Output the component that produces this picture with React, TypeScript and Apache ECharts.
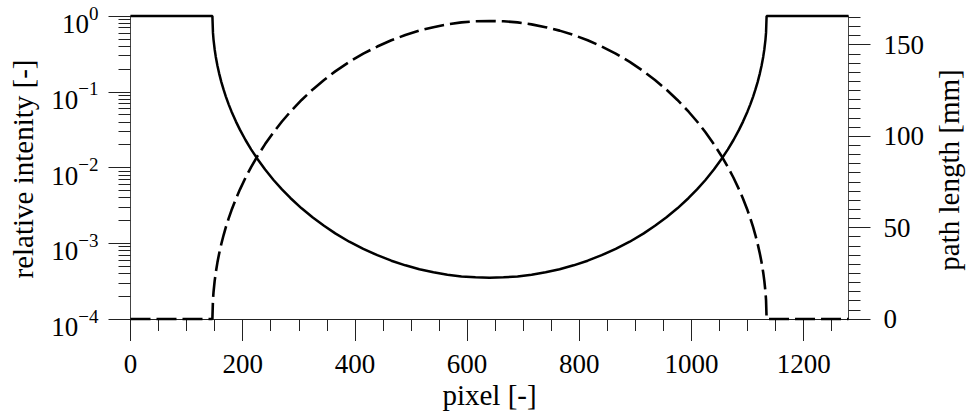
import React, { useEffect, useRef } from "react";
import * as echarts from "echarts";

// Detector pixel positions across the scan
const pixelPos = [
  0, 146, 147, 148, 150, 152, 155, 158, 162, 166, 170, 175, 180, 188, 195, 205, 215, 227, 240, 255,
  270, 285, 305, 325, 345, 365, 390, 415, 440, 465, 490, 515, 540, 565, 590, 615, 640,
  665, 690, 715, 740, 765, 790, 815, 840, 865, 890, 915, 935, 955, 975, 995, 1010, 1025, 1040,
  1053, 1065, 1075, 1085, 1092, 1100, 1105, 1110, 1114, 1118, 1122, 1125, 1128, 1130, 1132, 1133,
  1134, 1280,
];

// Relative transmitted intensity [-]
const intensity = [
  1, 1, 0.6031, 0.4892, 0.3642, 0.2905, 0.2206, 0.1751, 0.1342, 0.1064, 0.08636, 0.06819, 0.05502,
  0.04037, 0.03161, 0.02306, 0.01734, 0.01273, 0.009393, 0.006847, 0.005142, 0.00396, 0.002891,
  0.002183, 0.001699, 0.00135, 0.001048, 0.0008407, 0.0006953, 0.0005885, 0.0005113, 0.0004547,
  0.0004145, 0.000385, 0.000365, 0.0003547, 0.000351,
  0.0003547, 0.000365, 0.000385, 0.0004145, 0.0004547, 0.0005113, 0.0005885, 0.0006953, 0.0008407,
  0.001048, 0.00135, 0.001699, 0.002183, 0.002891, 0.00396, 0.005142, 0.006847, 0.009393, 0.01273,
  0.01734, 0.02306, 0.03161, 0.04037, 0.05502, 0.06819, 0.08636, 0.1064, 0.1342, 0.1751, 0.2206,
  0.2905, 0.3642, 0.4892, 0.6031, 1, 1,
];

// Path length through the object [mm]
const pathLength = [
  0, 0, 10.36, 14.65, 20.7, 25.33, 30.97, 35.71, 41.15, 45.91, 50.19, 55.03, 59.43, 65.77, 70.78,
  77.25, 83.09, 89.43, 95.65, 102.13, 108, 113.35, 119.8, 125.56, 130.7, 135.41, 140.6, 145.11, 149,
  152.43, 155.3, 157.7, 159.6, 161.11, 162.2, 162.79, 163,
  162.79, 162.2, 161.11, 159.6, 157.7, 155.3, 152.43, 149, 145.11, 140.6, 135.41, 130.7, 125.56,
  119.8, 113.35, 108, 102.13, 95.65, 89.43, 83.09, 77.25, 70.78, 65.77, 59.43, 55.03, 50.19, 45.91,
  41.15, 35.71, 30.97, 25.33, 20.7, 14.65, 10.36, 0, 0,
];

// Axis ticks
const xMajorTicks = [0, 200, 400, 600, 800, 1000, 1200];
const xMinorTicks = [
  50, 100, 150, 250, 300, 350, 450, 500, 550, 650, 700, 750, 850, 900, 950, 1050, 1100, 1150, 1250,
];
const intensityMajorTicks = [0.0001, 0.001, 0.01, 0.1, 1];
const intensityMinorTicks = [
  0.0002, 0.0003, 0.0004, 0.0005, 0.0006, 0.0007, 0.0008, 0.0009,
  0.002, 0.003, 0.004, 0.005, 0.006, 0.007, 0.008, 0.009,
  0.02, 0.03, 0.04, 0.05, 0.06, 0.07, 0.08, 0.09,
  0.2, 0.3, 0.4, 0.5, 0.6, 0.7, 0.8, 0.9,
];
const lengthMajorTicks = [0, 50, 100, 150];
const lengthMinorTicks = [
  5, 10, 15, 20, 25, 30, 35, 40, 45, 55, 60, 65, 70, 75, 80, 85, 90, 95, 105, 110, 115, 120, 125,
  130, 135, 140, 145, 155, 160, 165,
];

const X_MAX = 1280;
const LEN_MAX = 165.7;
const FONT = "'Liberation Serif', 'Times New Roman', serif";
const INK = "#000";

export default function App() {
  const ref = useRef<HTMLDivElement>(null);

  useEffect(() => {
    if (!ref.current) return;
    const chart = echarts.init(ref.current, undefined, { renderer: "svg" });

    const gridBox = { left: 130.5, top: 16, width: 718, height: 303 };
    const lineCol = { color: "#222", width: 1 };

    const option: echarts.EChartsOption = {
      animation: false,
      backgroundColor: "#fff",
      grid: [gridBox, gridBox],
      xAxis: [
        {
          gridIndex: 0,
          type: "value",
          position: "bottom",
          min: 0,
          max: X_MAX,
          axisLine: { show: true, onZero: false, lineStyle: lineCol },
          axisTick: { show: true, length: 22, customValues: xMajorTicks, lineStyle: lineCol },
          axisLabel: {
            customValues: xMajorTicks,
            margin: 31,
            fontFamily: FONT,
            fontSize: 27,
            color: INK,
            formatter: (v: number) => String(v),
          },
          splitLine: { show: false },
        },
        {
          gridIndex: 1,
          type: "value",
          position: "bottom",
          min: 0,
          max: X_MAX,
          axisLine: { show: false, onZero: false },
          axisTick: { show: true, length: 12, customValues: xMinorTicks, lineStyle: lineCol },
          axisLabel: { show: false },
          splitLine: { show: false },
        },
      ],
      yAxis: [
        {
          gridIndex: 0,
          type: "log",
          position: "left",
          min: 0.0001,
          max: 1,
          logBase: 10,
          axisLine: { show: true, lineStyle: { color: "#444", width: 1 } },
          axisTick: { show: true, length: 22, customValues: intensityMajorTicks, lineStyle: lineCol },
          axisLabel: {
            customValues: intensityMajorTicks,
            margin: 32,
            padding: [9, 0, 0, 0],
            formatter: (v: number) => {
              const e = Math.round(Math.log10(v));
              const s = e < 0 ? "\u2212" + String(-e) : String(e);
              return "{b|10}{s|" + s + "}";
            },
            rich: {
              b: { fontFamily: FONT, fontSize: 27, lineHeight: 34, verticalAlign: "bottom", color: INK },
              s: { fontFamily: FONT, fontSize: 19, lineHeight: 19, verticalAlign: "top", color: INK },
            },
          },
          splitLine: { show: false },
        },
        {
          gridIndex: 0,
          type: "value",
          position: "right",
          min: 0,
          max: LEN_MAX,
          axisLine: { show: true, lineStyle: { color: "#444", width: 1 } },
          axisTick: { show: true, length: 22, customValues: lengthMajorTicks, lineStyle: lineCol },
          axisLabel: {
            customValues: lengthMajorTicks,
            margin: 35,
            fontFamily: FONT,
            fontSize: 27,
            color: INK,
            formatter: (v: number) => String(v),
          },
          splitLine: { show: false },
        },
        {
          gridIndex: 1,
          type: "log",
          position: "left",
          min: 0.0001,
          max: 1,
          logBase: 10,
          axisLine: { show: false },
          axisTick: { show: true, length: 12, customValues: intensityMinorTicks, lineStyle: lineCol },
          axisLabel: { show: false },
          splitLine: { show: false },
        },
        {
          gridIndex: 1,
          type: "value",
          position: "right",
          min: 0,
          max: LEN_MAX,
          axisLine: { show: false },
          axisTick: { show: true, length: 12, customValues: lengthMinorTicks, lineStyle: lineCol },
          axisLabel: { show: false },
          splitLine: { show: false },
        },
      ],
      graphic: [
        {
          type: "text",
          x: 489.5,
          y: 395,
          style: {
            text: "pixel [-]",
            fontFamily: FONT,
            fontSize: 29,
            fill: INK,
            align: "center",
            verticalAlign: "middle",
          },
        },
        {
          type: "text",
          x: 22.5,
          y: 169,
          rotation: Math.PI / 2,
          style: {
            text: "relative intenity [-]",
            fontFamily: FONT,
            fontSize: 29,
            fill: INK,
            align: "center",
            verticalAlign: "middle",
          },
        },
        {
          type: "text",
          x: 948.5,
          y: 170,
          rotation: Math.PI / 2,
          style: {
            text: "path length [mm]",
            fontFamily: FONT,
            fontSize: 29,
            fill: INK,
            align: "center",
            verticalAlign: "middle",
          },
        },
      ],
      series: [
        {
          name: "path length",
          type: "line",
          xAxisIndex: 0,
          yAxisIndex: 1,
          data: pixelPos.map((x, i) => [x, pathLength[i]]),
          showSymbol: false,
          symbol: "none",
          clip: false,
          lineStyle: { color: INK, width: 2.6, type: [20, 6], cap: "butt" },
          z: 3,
        },
        {
          name: "relative intensity",
          type: "line",
          xAxisIndex: 0,
          yAxisIndex: 0,
          data: pixelPos.map((x, i) => [x, intensity[i]]),
          showSymbol: false,
          symbol: "none",
          clip: false,
          lineStyle: { color: INK, width: 2.5 },
          z: 4,
        },
      ],
    };

    chart.setOption(option);
    return () => chart.dispose();
  }, []);

  return (
    <div
      ref={ref}
      style={{ position: "fixed", left: 0, top: 0, width: 971, height: 413, background: "#fff" }}
    />
  );
}
